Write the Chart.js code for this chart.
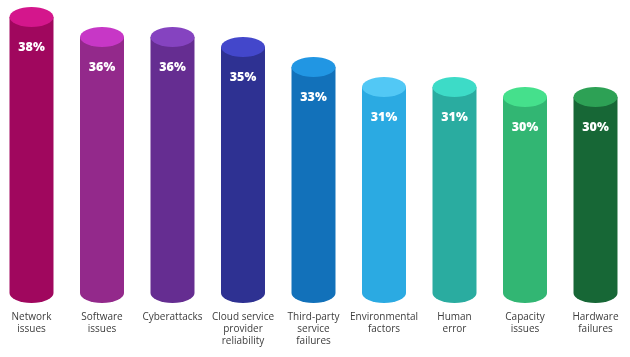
<!DOCTYPE html>
<html>
<head>
<meta charset="utf-8">
<script src="https://cdn.jsdelivr.net/npm/chart.js@4.4.1/dist/chart.umd.min.js"></script>
<style>
  html, body { margin: 0; padding: 0; background: #ffffff; }
  #wrap { width: 630px; height: 357px; position: relative; }
</style>
</head>
<body>
<div id="wrap"><canvas id="c" width="630" height="357"></canvas></div>
<script>
const categories = [
  ["Network", "issues"],
  ["Software", "issues"],
  ["Cyberattacks"],
  ["Cloud service", "provider", "reliability"],
  ["Third-party", "service", "failures"],
  ["Environmental", "factors"],
  ["Human", "error"],
  ["Capacity", "issues"],
  ["Hardware", "failures"]
];
const values = [38, 36, 36, 35, 33, 31, 31, 30, 30];
const bodyColors = ["#A0075E", "#93298B", "#652D91", "#2E3192", "#1271BA", "#2BAAE2", "#2AACA0", "#32B673", "#176736"];
const topColors  = ["#D4168C", "#C737C6", "#8543C0", "#4347CB", "#2196E3", "#52C8F5", "#3DDBC7", "#45E08C", "#2DA155"];
const axisMin = 10.4;
const axisMax = 39;

const cylinderPlugin = {
  id: 'cylinder',
  afterDatasetsDraw(chart) {
    const ctx = chart.ctx;
    const meta = chart.getDatasetMeta(0);
    const ry = 10;
    meta.data.forEach((bar, i) => {
      const p = bar.getProps(['x', 'y', 'base', 'width'], true);
      const rx = p.width / 2;
      ctx.save();
      ctx.fillStyle = bodyColors[i];
      ctx.beginPath();
      ctx.ellipse(p.x, p.base, rx, ry, 0, 0, Math.PI);
      ctx.closePath();
      ctx.fill();
      ctx.fillStyle = topColors[i];
      ctx.beginPath();
      ctx.ellipse(p.x, p.y, rx, ry, 0, 0, Math.PI * 2);
      ctx.fill();
      ctx.fillStyle = '#ffffff';
      ctx.font = '800 12.5px "Open Sans"';
      ctx.textAlign = 'center';
      ctx.textBaseline = 'middle';
      ctx.fillText(values[i] + '%', p.x, p.y + 30);
      ctx.restore();
    });
  }
};

const chart = new Chart(document.getElementById('c'), {
  type: 'bar',
  data: {
    labels: categories,
    datasets: [{
      data: values,
      base: axisMin,
      backgroundColor: bodyColors,
      borderWidth: 0,
      barPercentage: 0.624,
      categoryPercentage: 1.0,
      clip: false
    }]
  },
  options: {
    responsive: false,
    animation: false,
    devicePixelRatio: 1,
    layout: { padding: { top: 7, left: 31.5, right: 34.5, bottom: 10 } },
    plugins: { legend: { display: false }, tooltip: { enabled: false } },
    scales: {
      x: {
        offset: false,
        grid: { display: false, drawTicks: false },
        border: { display: false },
        afterFit(scale) { scale.height = 54; scale.paddingLeft = 0; scale.paddingRight = 0; },
        ticks: {
          color: '#3c3c3c',
          font: { family: 'Open Sans', size: 10, lineHeight: 1.2 },
          padding: 18,
          maxRotation: 0,
          autoSkip: false
        }
      },
      y: {
        display: false,
        min: axisMin,
        max: axisMax
      }
    }
  },
  plugins: [cylinderPlugin]
});
</script>
</body>
</html>
